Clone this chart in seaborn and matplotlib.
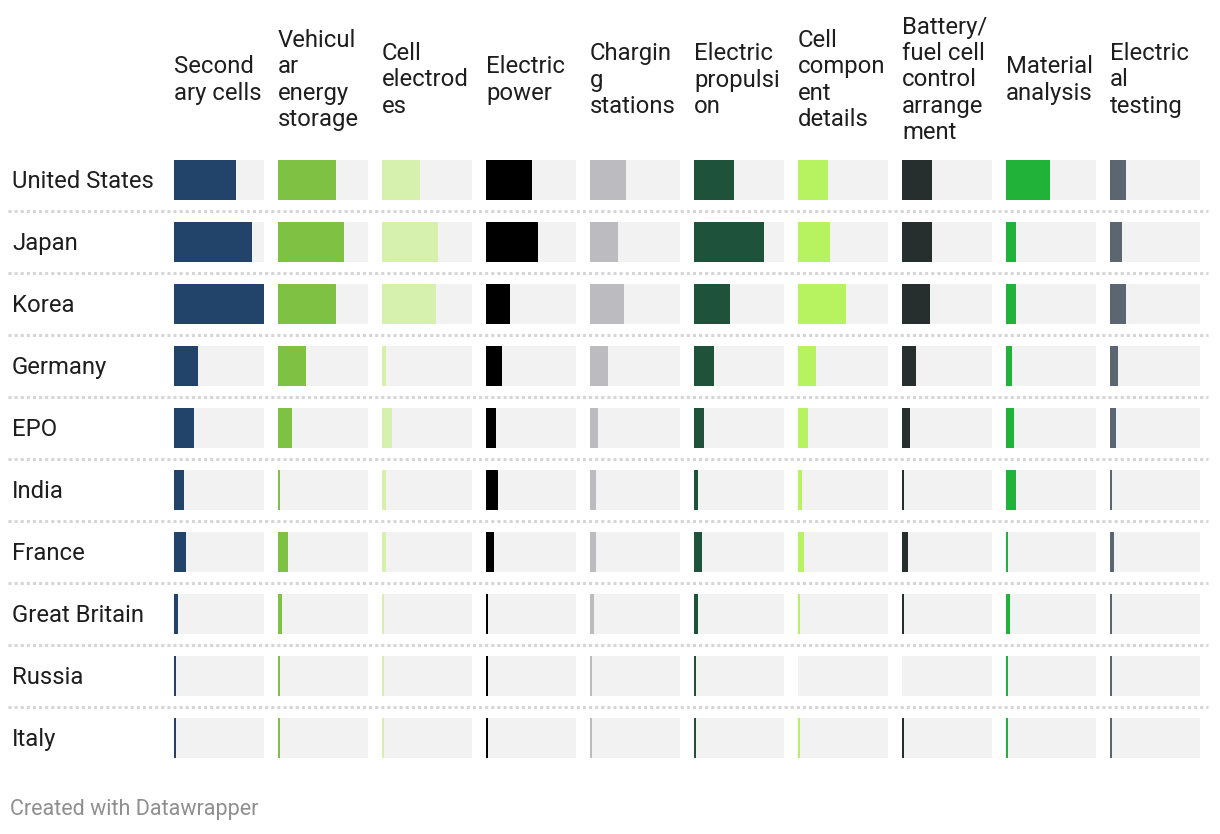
import pandas as pd
import numpy as np
import seaborn as sns
import matplotlib.pyplot as plt

# bar lengths (full track = 90)
countries = ['United States', 'Japan', 'Korea', 'Germany', 'EPO', 'India',
             'France', 'Great Britain', 'Russia', 'Italy']
headers = ['Second\nary cells', 'Vehicul\nar\nenergy\nstorage', 'Cell\nelectrod\nes',
           'Electric\npower', 'Chargin\ng\nstations', 'Electric\npropulsi\non',
           'Cell\ncompon\nent\ndetails', 'Battery/\nfuel cell\ncontrol\narrange\nment',
           'Material\nanalysis', 'Electric\nal\ntesting']
secondary_cells = [62, 78, 90, 24, 20, 10, 12, 4, 2, 2]
vehicular_storage = [58, 66, 58, 28, 14, 2, 10, 4, 2, 2]
cell_electrodes = [38, 56, 54, 4, 10, 4, 4, 2, 2, 2]
electric_power = [46, 52, 24, 16, 10, 12, 8, 2, 2, 2]
charging_stations = [36, 28, 34, 18, 8, 6, 6, 4, 2, 2]
electric_propulsion = [40, 70, 36, 20, 10, 4, 8, 4, 2, 2]
component_details = [30, 32, 48, 18, 10, 4, 6, 2, 0, 2]
control_arrangement = [30, 30, 28, 14, 8, 2, 6, 2, 0, 2]
material_analysis = [44, 10, 10, 6, 8, 10, 2, 4, 2, 2]
electrical_testing = [16, 12, 16, 8, 6, 2, 4, 2, 2, 2]
scale_max = 90

series = [secondary_cells, vehicular_storage, cell_electrodes, electric_power,
          charging_stations, electric_propulsion, component_details,
          control_arrangement, material_analysis, electrical_testing]
colors = ['#22446a', '#7fc243', '#d5f1ad', '#000000', '#bcbcc0',
          '#1f523b', '#b7f361', '#262f2d', '#21b339', '#5c6670']

sns.set_style('white')
plt.rcParams['font.family'] = ['Roboto', 'DejaVu Sans']

W, H = 1220, 834
fig = plt.figure(figsize=(W / 100, H / 100), dpi=100)

top_px, bottom_px = 149, 769
row_h = (bottom_px - top_px) / len(countries)

# background axes for separators and row labels
bg = fig.add_axes([0, 1 - bottom_px / H, 1, (bottom_px - top_px) / H])
bg.set_xlim(0, W)
bg.set_ylim(len(countries) - 0.5, -0.5)
for i in range(len(countries) - 1):
    bg.plot([8, 1208], [i + 0.5, i + 0.5], color='#d6d6d6', lw=2.2,
            linestyle=(0, (1, 1)), solid_capstyle='butt', dash_capstyle='butt')
for i, c in enumerate(countries):
    bg.text(12, i + 0.02, c, ha='left', va='center', fontsize=17.2, color='#1e1e1e')
bg.axis('off')

col_x0 = 174
col_step = 104
track_w = 90
for j, (vals, col, head) in enumerate(zip(series, colors, headers)):
    x0 = col_x0 + j * col_step
    ax = fig.add_axes([x0 / W, 1 - bottom_px / H, track_w / W, (bottom_px - top_px) / H])
    df = pd.DataFrame({'country': countries, 'value': vals, 'track': [scale_max] * len(countries)})
    sns.barplot(data=df, x='track', y='country', color='#f2f2f2', width=40 / row_h,
                ax=ax, orient='h', saturation=1, linewidth=0)
    sns.barplot(data=df, x='value', y='country', color=col, width=40 / row_h,
                ax=ax, orient='h', saturation=1, linewidth=0)
    ax.set_xlim(0, scale_max)
    ax.set_ylim(len(countries) - 0.5, -0.5)
    ax.axis('off')
    fig.text(x0 / W, 1 - 80 / H, head, ha='left', va='center', fontsize=17.2,
             color='#1e1e1e', linespacing=1.17)

fig.text(10 / W, 1 - 810 / H, 'Created with Datawrapper', ha='left', va='center',
         fontsize=15.5, color='#8f8f8f')

fig.savefig('out.png', dpi=100, facecolor='white')
